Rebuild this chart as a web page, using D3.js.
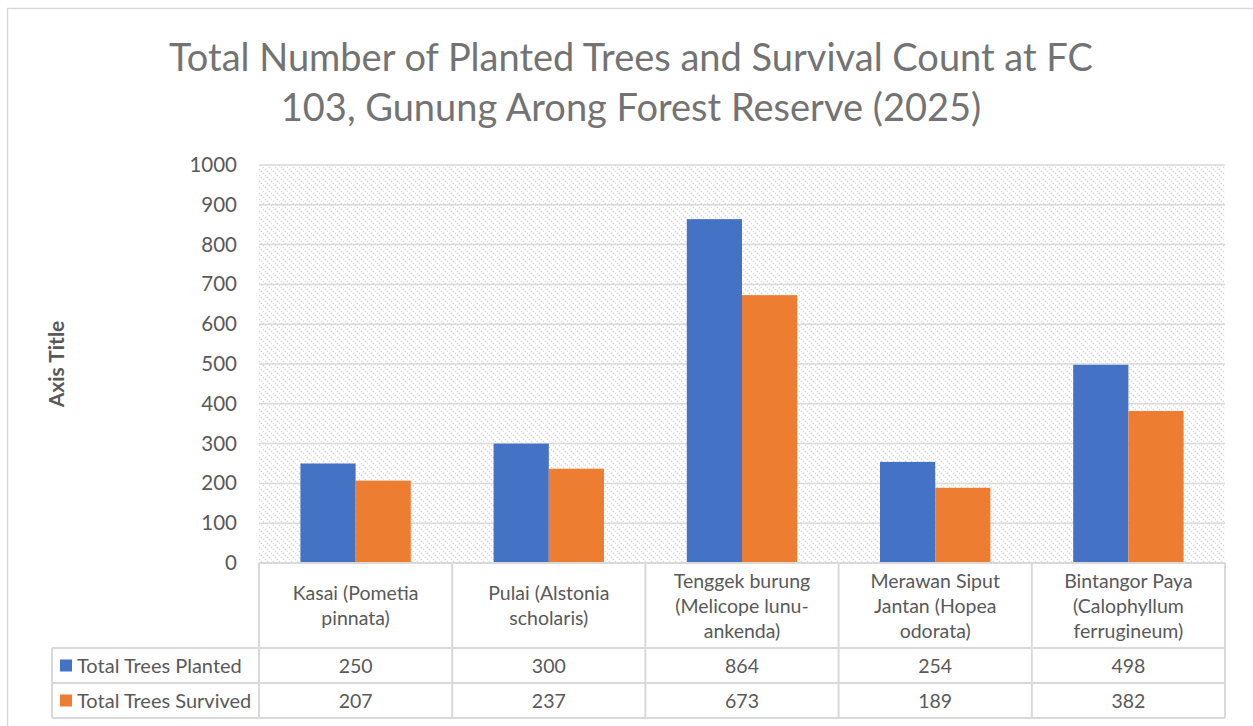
<!DOCTYPE html>
<html>
<head>
<meta charset="utf-8">
<script src="https://cdn.jsdelivr.net/npm/d3@7"></script>
<style>
  body { margin: 0; background: #fff; }
  svg { font-family: Lato, "Open Sans", sans-serif; }
</style>
</head>
<body>
<script>
const categories = [
  ["Kasai (Pometia", "pinnata)"],
  ["Pulai (Alstonia", "scholaris)"],
  ["Tenggek burung", "(Melicope lunu-", "ankenda)"],
  ["Merawan Siput", "Jantan (Hopea", "odorata)"],
  ["Bintangor Paya", "(Calophyllum", "ferrugineum)"]
];
const seriesNames = ["Total Trees Planted", "Total Trees Survived"];
const planted = [250, 300, 864, 254, 498];
const survived = [207, 237, 673, 189, 382];
const yTicks = [0, 100, 200, 300, 400, 500, 600, 700, 800, 900, 1000];
const colors = ["#4472c4", "#ed7d31"];

const w = 1253, h = 726;
const plotL = 259, plotR = 1225, plotT = 165, plotB = 563;
const textCol = "#595959", lineCol = "#d9d9d9";

const svg = d3.select("body").append("svg")
  .attr("width", w)
  .attr("height", h);

// hatch pattern for plot background
const defs = svg.append("defs");
const pat = defs.append("pattern")
  .attr("id", "hatch")
  .attr("patternUnits", "userSpaceOnUse")
  .attr("width", 6)
  .attr("height", 6);
pat.append("path")
  .attr("d", "M-1,-1 L7,7 M-1,5 L1,7 M5,-1 L7,1")
  .attr("stroke", "#d6d6d6")
  .attr("stroke-width", 1.2)
  .attr("stroke-dasharray", "1.4,1.4");

// chart border
svg.append("rect")
  .attr("x", 7.5).attr("y", 8.5)
  .attr("width", 1260).attr("height", 730)
  .attr("fill", "none")
  .attr("stroke", "#d9d9d9")
  .attr("stroke-width", 1.5);

// title
const title = svg.append("text")
  .attr("text-anchor", "middle")
  .attr("fill", "#737373")
  .style("font-size", "38px");
title.append("tspan").attr("x", 631).attr("y", 71)
  .text("Total Number of Planted Trees and Survival Count at FC");
title.append("tspan").attr("x", 631).attr("y", 121)
  .text("103, Gunung Arong Forest Reserve (2025)");

const x = d3.scaleBand()
  .domain(d3.range(categories.length))
  .range([plotL, plotR]);

const bw = x.bandwidth();
const barW = bw / 3.5;
const x1 = d3.scaleBand()
  .domain([0, 1])
  .range([bw / 2 - barW, bw / 2 + barW]);

const y = d3.scaleLinear()
  .domain([0, 1000])
  .range([plotB, plotT]);

svg.append("rect")
  .attr("x", plotL).attr("y", plotT)
  .attr("width", plotR - plotL).attr("height", plotB - plotT)
  .attr("fill", "url(#hatch)");

// gridlines
svg.append("g")
  .selectAll("line")
  .data(yTicks.filter(d => d > 0))
  .enter().append("line")
  .attr("x1", plotL).attr("x2", plotR)
  .attr("y1", d => y(d)).attr("y2", d => y(d))
  .attr("stroke", lineCol)
  .attr("stroke-width", 1.5);

// y axis
const yAxis = d3.axisLeft(y)
  .tickValues(yTicks)
  .tickFormat(d3.format("d"))
  .tickSize(0)
  .tickPadding(22);
const ya = svg.append("g")
  .attr("transform", `translate(${plotL},0)`)
  .call(yAxis);
ya.select(".domain").remove();
ya.selectAll("text")
  .attr("fill", textCol)
  .style("font-size", "20.5px")
  .style("font-family", "Lato, sans-serif");

svg.append("text")
  .attr("transform", `translate(64, ${(plotT + plotB) / 2}) rotate(-90)`)
  .attr("text-anchor", "middle")
  .attr("fill", textCol)
  .style("font-size", "21px")
  .style("font-weight", "bold")
  .text("Axis Title");

// bars
const seriesData = [planted, survived];
seriesData.forEach((vals, s) => {
  svg.append("g")
    .selectAll("rect")
    .data(vals)
    .enter().append("rect")
    .attr("x", (d, i) => x(i) + x1(s))
    .attr("y", d => y(d))
    .attr("width", x1.bandwidth())
    .attr("height", d => y(0) - y(d))
    .attr("fill", colors[s]);
});

// data table
const rowTop = plotB, headerH = 85, rowH = 35, tableLeft = 52;
const tbl = svg.append("g")
  .attr("stroke", lineCol)
  .attr("stroke-width", 2)
  .attr("fill", "none");
tbl.append("line").attr("x1", plotL).attr("x2", plotR).attr("y1", rowTop).attr("y2", rowTop);
[headerH, headerH + rowH, headerH + 2 * rowH].forEach(off => {
  tbl.append("line").attr("x1", tableLeft).attr("x2", plotR)
    .attr("y1", rowTop + off).attr("y2", rowTop + off);
});
tbl.append("line").attr("x1", tableLeft).attr("x2", tableLeft)
  .attr("y1", rowTop + headerH).attr("y2", rowTop + headerH + 2 * rowH);
tbl.selectAll(".vl")
  .data(d3.range(categories.length + 1))
  .enter().append("line")
  .attr("x1", i => i < categories.length ? x(i) : plotR)
  .attr("x2", i => i < categories.length ? x(i) : plotR)
  .attr("y1", rowTop)
  .attr("y2", rowTop + headerH + 2 * rowH);

// category labels
categories.forEach((lines, i) => {
  const t = svg.append("text")
    .attr("text-anchor", "middle")
    .attr("fill", textCol)
    .style("font-size", "19.5px");
  const startY = rowTop + headerH / 2 - (lines.length - 1) * 12.5 + 7;
  lines.forEach((ln, k) => {
    t.append("tspan")
      .attr("x", x(i) + bw / 2)
      .attr("y", startY + k * 25)
      .text(ln);
  });
});

// series rows
seriesData.forEach((vals, s) => {
  const cy = rowTop + headerH + s * rowH + rowH / 2;
  svg.append("rect")
    .attr("x", 60).attr("y", cy - 6)
    .attr("width", 12).attr("height", 12)
    .attr("fill", colors[s]);
  svg.append("text")
    .attr("x", 77).attr("y", cy + 7)
    .attr("fill", textCol)
    .style("font-size", "20px")
    .text(seriesNames[s]);
  svg.append("g")
    .selectAll("text")
    .data(vals)
    .enter().append("text")
    .attr("x", (d, i) => x(i) + bw / 2)
    .attr("y", cy + 7)
    .attr("text-anchor", "middle")
    .attr("fill", textCol)
    .style("font-size", "19.5px")
    .text(d => d);
});
</script>
</body>
</html>
